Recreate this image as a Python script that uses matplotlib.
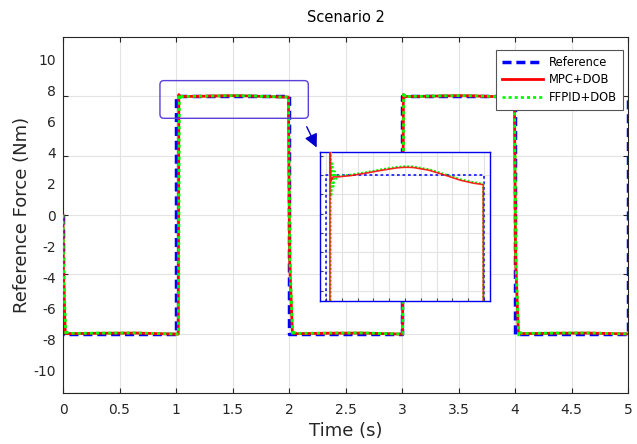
import matplotlib
matplotlib.use("Agg")
import matplotlib.pyplot as plt
from matplotlib.patches import FancyBboxPatch

# ---------------- data ----------------
ref_t = [0, 0, 1, 1, 2, 2, 3, 3, 4, 4, 5, 5]
ref_f = [0, -8, -8, 8, 8, -8, -8, 8, 8, -8, -8, 8]

mpc_t = [0.000, 0.004, 0.020, 0.050, 0.350, 0.650, 0.990, 1.020,
         1.025, 1.032, 1.045, 1.073, 1.150, 1.250, 1.350, 1.450, 1.500, 1.550, 1.650, 1.750, 1.850, 1.930, 1.995,
         2.005, 2.030, 2.060, 2.350, 2.650, 2.990, 3.005,
         3.012, 3.020, 3.045, 3.073, 3.150, 3.250, 3.350, 3.450, 3.500, 3.550, 3.650, 3.750, 3.850, 3.930, 3.995,
         4.005, 4.030, 4.060, 4.350, 4.650, 5.000]
mpc_f = [0.00, -4.00, -7.97, -8.00, -7.97, -7.96, -8.03, -8.03,
         8.12, 7.97, 7.99, 7.99, 7.996, 8.009, 8.024, 8.037, 8.040, 8.039, 8.025, 8.000, 7.973, 7.958, 7.950,
         -3.00, -7.95, -8.00, -7.97, -7.96, -8.03, -8.03,
         8.12, 7.97, 7.99, 7.99, 7.996, 8.009, 8.024, 8.037, 8.040, 8.039, 8.025, 8.000, 7.973, 7.958, 7.950,
         -3.00, -7.95, -8.00, -7.97, -7.96, -8.02]

ffpid_t = [0.000, 0.006, 0.025, 0.035, 0.050, 0.350, 0.650, 0.990, 1.022,
           1.030, 1.034, 1.040, 1.047, 1.055, 1.065, 1.080, 1.150, 1.250, 1.350, 1.450, 1.500, 1.550, 1.650, 1.750, 1.850, 1.930, 1.995,
           2.008, 2.032, 2.040, 2.060, 2.350, 2.650, 2.990, 3.007,
           3.015, 3.019, 3.025, 3.032, 3.040, 3.050, 3.065, 3.150, 3.250, 3.350, 3.450, 3.500, 3.550, 3.650, 3.750, 3.850, 3.930, 3.995,
           4.008, 4.032, 4.040, 4.060, 4.350, 4.650, 5.000]
ffpid_f = [0.00, -4.00, -8.10, -7.90, -7.98, -7.96, -7.95, -8.02, -8.02,
           8.12, 7.89, 8.06, 7.94, 8.02, 7.98, 7.995, 8.001, 8.014, 8.029, 8.042, 8.045, 8.044, 8.030, 8.005, 7.978, 7.963, 7.955,
           -3.00, -8.10, -7.90, -7.98, -7.96, -7.95, -8.02, -8.02,
           8.12, 7.89, 8.06, 7.94, 8.02, 7.98, 7.995, 8.001, 8.014, 8.029, 8.042, 8.045, 8.044, 8.030, 8.005, 7.978, 7.963, 7.955,
           -3.00, -8.10, -7.90, -7.98, -7.96, -7.95, -8.02]

xtick_vals = [0, 0.5, 1, 1.5, 2, 2.5, 3, 3.5, 4, 4.5, 5]
xtick_labels = ['0', '0.5', '1', '1.5', '2', '2.5', '3', '3.5', '4', '4.5', '5']
ygrid_vals = [-8, -4, 0, 4, 8]
ytick_vals = [10, 8, 6, 4, 2, 0, -2, -4, -6, -8, -10]
ytick_labels = ['10', '8', '6', '4', '2', '0', '-2', '-4', '-6', '-8', '-10']
LABEL_STRETCH = 1.05  # tick labels in the reference are spaced slightly wider than the scale

series_names = ['Reference', 'MPC+DOB', 'FFPID+DOB']

# zoom window (main-axes data coords) and inset limits
zoom_box = (0.858, 6.52, 2.171, 9.06)
inset_xlim = (0.962, 2.038)
inset_ylim = (7.347, 8.119)
inset_xticks = [1.0, 1.1, 1.2, 1.3, 1.4, 1.5, 1.6, 1.7, 1.8, 1.9, 2.0]
inset_yticks = [7.4, 7.5, 7.6, 7.7, 7.8, 7.9, 8.0, 8.1]
arrow_from = (2.157, 5.95)
arrow_to = (2.245, 4.55)

# ---------------- figure ----------------
W, H = 637, 444
fig = plt.figure(figsize=(W / 100, H / 100), dpi=100)
ax = fig.add_axes([63 / W, 1 - 393 / H, (628 - 63) / W, (393 - 37) / H])

BLUE = '#0000ff'
RED = '#ff0000'
GREEN = '#00ff00'

ax.plot(ref_t, ref_f, color=BLUE, lw=2.5, dashes=(2.6, 1.4), label=series_names[0], zorder=3)
ax.plot(mpc_t, mpc_f, color=RED, lw=2.0, label=series_names[1], zorder=4)
ax.plot(ffpid_t, ffpid_f, color=GREEN, lw=2.0, dashes=(1.1, 1.1), label=series_names[2], zorder=5)

ax.set_xlim(0, 5)
ax.set_ylim(-12, 12)
ax.yaxis.remove_overlapping_locs = False
ax.set_xticks(xtick_vals)
ax.set_xticklabels(xtick_labels, fontsize=10, color='#262626')
ax.set_yticks(ygrid_vals)
ax.set_yticklabels([])
ax.set_yticks([v * LABEL_STRETCH for v in ytick_vals], minor=True)
ax.set_yticklabels(ytick_labels, minor=True, fontsize=10, color='#262626')
ax.tick_params(axis='both', which='major', direction='in', length=3.5, width=0.8,
               top=True, right=True, color='#262626')
ax.tick_params(axis='y', which='minor', length=0, pad=5)
ax.tick_params(axis='x', which='major', pad=7)
ax.grid(True, which='major', color='#e3e3e3', lw=0.8)
ax.set_axisbelow(True)
for s in ax.spines.values():
    s.set_color('#262626')
    s.set_linewidth(0.8)

ax.set_title('Scenario 2', fontsize=10.5, pad=11)
ax.set_xlabel('Time (s)', fontsize=13, labelpad=4, color='#262626')
ax.set_ylabel('Reference Force (Nm)', fontsize=13, labelpad=2, color='#262626')

leg = ax.legend(loc='upper right', bbox_to_anchor=(0.991, 0.9635), borderaxespad=0,
                fontsize=8.3, handlelength=3.6, fancybox=False, framealpha=1,
                edgecolor='#555555', borderpad=0.5, labelspacing=0.4, handletextpad=0.5)
leg.get_frame().set_linewidth(0.8)

# rounded zoom rectangle
x0, y0, x1, y1 = zoom_box
rect = FancyBboxPatch((x0, y0), x1 - x0, y1 - y0,
                      boxstyle="round,pad=0,rounding_size=0.035",
                      mutation_aspect=(113 / 14.83),
                      fill=False, edgecolor='#5b3fd6', lw=1.0, zorder=6)
ax.add_patch(rect)

ax.annotate('', xy=arrow_to, xytext=arrow_from,
            arrowprops=dict(arrowstyle='-|>,head_length=0.8,head_width=0.4',
                            color='#0000cc', lw=1.0, shrinkA=0, shrinkB=0),
            zorder=7)

# ---------------- inset ----------------
ins = fig.add_axes([320 / W, 1 - 301 / H, 170 / W, 149 / H])
ins.plot(ref_t, ref_f, color=BLUE, lw=1.1, dashes=(1.8, 1.8), zorder=3)
ins.plot(ffpid_t, ffpid_f, color=GREEN, lw=1.4, dashes=(1.0, 1.0), zorder=4)
ins.plot(mpc_t, mpc_f, color=RED, lw=1.2, alpha=0.85, zorder=5)
ins.set_xlim(*inset_xlim)
ins.set_ylim(*inset_ylim)
ins.set_xticks(inset_xticks)
ins.set_yticks(inset_yticks)
ins.set_xticklabels([])
ins.set_yticklabels([])
ins.tick_params(direction='in', length=2, width=0.8, color='#444444', top=False, right=False)
ins.grid(True, color='#e3e3e3', lw=0.8)
ins.set_axisbelow(True)
for s in ins.spines.values():
    s.set_color('#0000ee')
    s.set_linewidth(1.0)

fig.savefig('out.png', dpi=100)
